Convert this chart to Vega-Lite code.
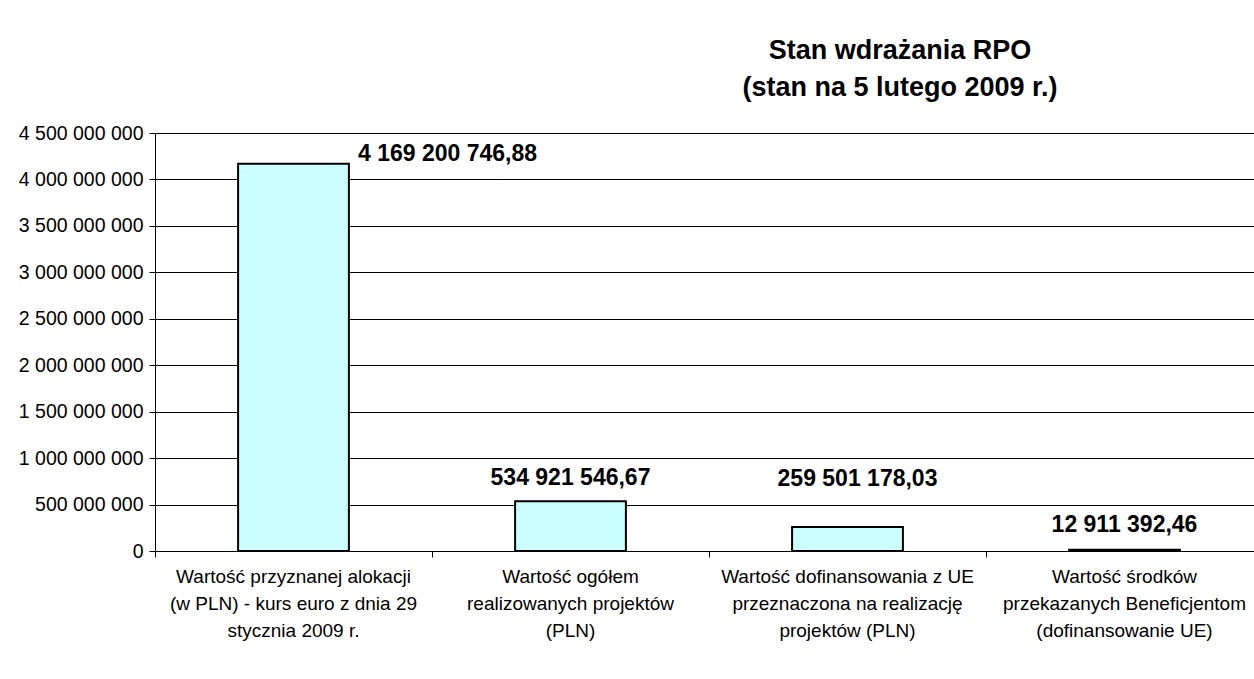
{
  "$schema": "https://vega.github.io/schema/vega-lite/v6.json",
  "width": 1108,
  "height": 418,
  "autosize": {"type": "none"},
  "padding": {"left": 155, "top": 133, "right": 0, "bottom": 128},
  "background": "white",
  "config": {
    "locale": {"number": {"decimal": ",", "thousands": " ", "grouping": [3], "currency": ["", " zł"]}},
    "view": {"stroke": null},
    "font": "Liberation Sans"
  },
  "title": {
    "text": ["Stan wdrażania RPO", "(stan na 5 lutego 2009 r.)"],
    "font": "Liberation Sans",
    "fontSize": 27,
    "fontWeight": "bold",
    "lineHeight": 37,
    "anchor": "middle",
    "dx": 191,
    "offset": 21,
    "color": "black"
  },
  "data": {
    "values": [
      {"nr": 1, "kategoria": "Wartość przyznanej alokacji|(w PLN) - kurs euro z dnia 29|stycznia 2009 r.", "wartosc": 4169200746.88},
      {"nr": 2, "kategoria": "Wartość ogółem|realizowanych projektów|(PLN)", "wartosc": 534921546.67},
      {"nr": 3, "kategoria": "Wartość dofinansowania z UE|przeznaczona na realizację|projektów (PLN)", "wartosc": 259501178.03},
      {"nr": 4, "kategoria": "Wartość środków|przekazanych Beneficjentom|(dofinansowanie UE)", "wartosc": 12911392.46}
    ]
  },
  "encoding": {
    "x": {
      "field": "kategoria",
      "type": "nominal",
      "sort": null,
      "scale": {"paddingInner": 0.6, "paddingOuter": 0.3},
      "axis": {
        "title": null,
        "labelAngle": 0,
        "labelExpr": "split(datum.label, '|')",
        "labelFont": "Liberation Sans",
        "labelFontSize": 19,
        "labelLineHeight": 27,
        "labelColor": "black",
        "labelLimit": 0,
        "labelOverlap": false,
        "labelBound": false,
        "labelPadding": 10,
        "tickSize": 6,
        "tickColor": "black",
        "domainColor": "black",
        "bandPosition": -0.75,
        "grid": false
      }
    },
    "y": {
      "field": "wartosc",
      "type": "quantitative",
      "scale": {"domain": [0, 4500000000], "nice": false},
      "axis": {
        "title": null,
        "values": [0, 500000000, 1000000000, 1500000000, 2000000000, 2500000000, 3000000000, 3500000000, 4000000000, 4500000000],
        "format": ",d",
        "labelFont": "Liberation Sans",
        "labelFontSize": 19.5,
        "labelColor": "black",
        "labelPadding": 6,
        "tickSize": 6,
        "tickColor": "black",
        "domainColor": "black",
        "gridColor": "black",
        "gridWidth": 1,
        "gridOpacity": 1
      }
    }
  },
  "layer": [
    {"mark": {"type": "bar", "fill": "#CCFFFF", "stroke": "black", "strokeWidth": 2}},
    {
      "transform": [{"filter": {"field": "nr", "equal": 1}}],
      "mark": {"type": "text", "font": "Liberation Sans", "fontSize": 23, "fontWeight": "bold", "color": "black", "baseline": "alphabetic", "dx": 154, "dy": -3},
      "encoding": {"text": {"field": "wartosc", "type": "quantitative", "format": ",.2f"}}
    },
    {
      "transform": [{"filter": {"field": "nr", "equal": 2}}],
      "mark": {"type": "text", "font": "Liberation Sans", "fontSize": 23, "fontWeight": "bold", "color": "black", "baseline": "alphabetic", "dx": 0, "dy": -16},
      "encoding": {"text": {"field": "wartosc", "type": "quantitative", "format": ",.2f"}}
    },
    {
      "transform": [{"filter": {"field": "nr", "equal": 3}}],
      "mark": {"type": "text", "font": "Liberation Sans", "fontSize": 23, "fontWeight": "bold", "color": "black", "baseline": "alphabetic", "dx": 10, "dy": -41},
      "encoding": {"text": {"field": "wartosc", "type": "quantitative", "format": ",.2f"}}
    },
    {
      "transform": [{"filter": {"field": "nr", "equal": 4}}],
      "mark": {"type": "text", "font": "Liberation Sans", "fontSize": 23, "fontWeight": "bold", "color": "black", "baseline": "alphabetic", "dx": 0, "dy": -18},
      "encoding": {"text": {"field": "wartosc", "type": "quantitative", "format": ",.2f"}}
    }
  ]
}
